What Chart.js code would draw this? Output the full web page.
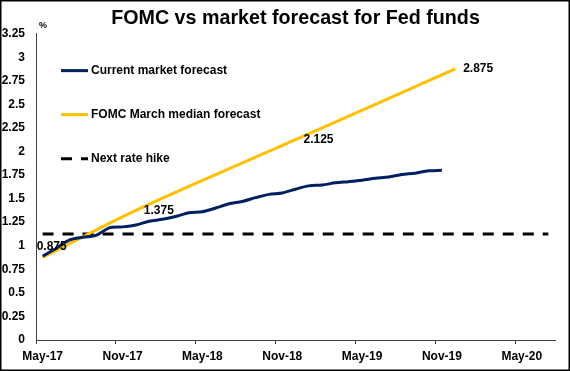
<!DOCTYPE html>
<html>
<head>
<meta charset="utf-8">
<script src="https://cdn.jsdelivr.net/npm/chart.js@4/dist/chart.umd.min.js"></script>
<style>
    html, body { margin: 0; padding: 0; background: #fff; }
    #wrap { width: 570px; height: 371px; }
</style>
</head>
<body>
<div id="wrap"><canvas id="fomcChart" width="570" height="371"></canvas></div>
<script>
// axis ticks (every 6 months from May-17)
const tickLabels = ['May-17', 'Nov-17', 'May-18', 'Nov-18', 'May-19', 'Nov-19', 'May-20'];

// current market forecast, monthly
const marketDates = [
    '2017-05', '2017-06', '2017-07', '2017-08', '2017-09', '2017-10', '2017-11', '2017-12',
    '2018-01', '2018-02', '2018-03', '2018-04', '2018-05', '2018-06', '2018-07', '2018-08',
    '2018-09', '2018-10', '2018-11', '2018-12', '2019-01', '2019-02', '2019-03', '2019-04',
    '2019-05', '2019-06', '2019-07', '2019-08', '2019-09', '2019-10', '2019-11'
];
const marketValues = [
    0.89, 0.97, 1.06, 1.09, 1.11, 1.19, 1.20, 1.22,
    1.26, 1.28, 1.31, 1.35, 1.36, 1.40, 1.445, 1.47,
    1.51, 1.545, 1.56, 1.60, 1.635, 1.645, 1.667, 1.68,
    1.695, 1.715, 1.73, 1.755, 1.77, 1.795, 1.80
];

// FOMC March median forecast
const fomcDates = ['2017-05', '2017-12', '2018-12', '2019-12'];
const fomcValues = [0.875, 1.375, 2.125, 2.875];

// next rate hike level
const hikeDates = ['2017-05', '2020-07'];
const hikeValues = [1.125, 1.125];

const FONT = "'Liberation Sans', Arial, sans-serif";

// month number counted from May-17, placed mid-month like the Excel date axis
function monthPos(d) {
    const [y, m] = d.split('-').map(Number);
    return (y - 2017) * 12 + (m - 5) + 0.5;
}

function toPoints(dates, values) {
    return dates.map((d, i) => ({ x: monthPos(d), y: values[i] }));
}

const series = [
    { label: 'Current market forecast', color: '#002060', width: 3, dash: [] },
    { label: 'FOMC March median forecast', color: '#FFC000', width: 3, dash: [] },
    { label: 'Next rate hike', color: '#000000', width: 3, dash: [11, 9] }
];

// frame, "%" unit, legend and value labels
const decorations = {
    id: 'decorations',
    afterDraw(chart) {
        const ctx = chart.ctx;
        const area = chart.chartArea;
        ctx.save();

        ctx.fillStyle = '#000';
        ctx.font = 'bold 9px ' + FONT;
        ctx.textAlign = 'left';
        ctx.textBaseline = 'middle';
        ctx.fillText('%', area.left + 3, area.top - 8);

        // legend inside the plot
        series.forEach((s, i) => {
            const y = area.top + 37 + i * 44;
            ctx.beginPath();
            ctx.strokeStyle = s.color;
            ctx.lineWidth = s.width;
            ctx.setLineDash(s.dash);
            ctx.moveTo(area.left + 25, y);
            ctx.lineTo(area.left + 52, y);
            ctx.stroke();
            ctx.setLineDash([]);
            ctx.font = 'bold 12px ' + FONT;
            ctx.fillText(s.label, area.left + 55, y);
        });

        // FOMC values next to its points
        const meta = chart.getDatasetMeta(1);
        ctx.font = 'bold 12px ' + FONT;
        meta.data.forEach((pt, i) => {
            const txt = String(fomcValues[i]);
            if (i === 0) {
                ctx.fillText(txt, pt.x - 6, pt.y - 11);
            } else {
                ctx.fillText(txt, pt.x + 8, pt.y);
            }
        });

        ctx.strokeStyle = '#000';
        ctx.lineWidth = 1.5;
        ctx.strokeRect(0.75, 0.75, chart.width - 1.5, chart.height - 1.5);
        ctx.restore();
    }
};

new Chart(document.getElementById('fomcChart').getContext('2d'), {
    type: 'line',
    data: {
        datasets: [
            toPoints(marketDates, marketValues),
            toPoints(fomcDates, fomcValues),
            toPoints(hikeDates, hikeValues)
        ].map((pts, i) => ({
            label: series[i].label,
            data: pts,
            borderColor: series[i].color,
            borderWidth: series[i].width,
            borderDash: series[i].dash,
            borderCapStyle: 'butt',
            pointRadius: 0,
            tension: 0.3,
            fill: false
        }))
    },
    options: {
        responsive: false,
        animation: false,
        layout: { padding: { left: 0, right: 15, top: 0, bottom: 0 } },
        plugins: {
            legend: { display: false },
            tooltip: { enabled: false },
            title: {
                display: true,
                fullSize: false,
                text: 'FOMC vs market forecast for Fed funds',
                color: '#000',
                font: { family: FONT, size: 19.7, weight: 'bold' },
                padding: { top: 7, bottom: 3 }
            }
        },
        scales: {
            x: {
                type: 'linear',
                min: 0,
                max: 39,
                afterFit: (scale) => { scale.height = 31; },
                grid: { drawOnChartArea: false, drawTicks: true, tickLength: 4, color: '#404040' },
                border: { display: true, color: '#404040', width: 1 },
                ticks: {
                    stepSize: 6,
                    includeBounds: false,
                    autoSkip: false,
                    maxRotation: 0,
                    labelOffset: 6.7,
                    padding: 5,
                    color: '#000',
                    font: { family: FONT, size: 12, weight: 'bold' },
                    callback: (v) => tickLabels[v / 6] || ''
                }
            },
            y: {
                min: 0,
                max: 3.25,
                afterFit: (scale) => { scale.width = 36; },
                grid: { drawOnChartArea: false, drawTicks: false },
                border: { display: true, color: '#404040', width: 1 },
                ticks: {
                    stepSize: 0.25,
                    padding: 11,
                    color: '#000',
                    font: { family: FONT, size: 12, weight: 'bold' },
                    callback: (v) => String(+v.toFixed(2))
                }
            }
        }
    },
    plugins: [decorations]
});
</script>
</body>
</html>
